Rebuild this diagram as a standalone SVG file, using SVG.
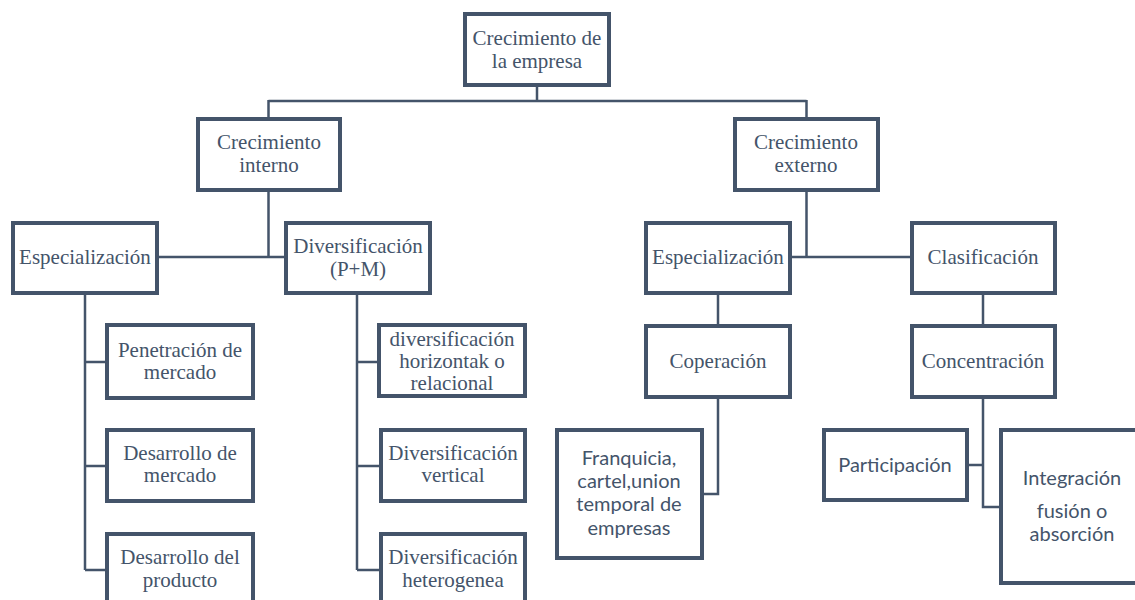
<svg xmlns="http://www.w3.org/2000/svg" width="1135" height="600" viewBox="0 0 1135 600">
<style>
.box{fill:#fff;stroke:#44546a;stroke-width:4}
.t{font-family:"Liberation Serif","Times New Roman",serif;font-size:21px;fill:#44546a;text-anchor:middle}
.s{font-family:Lato,"Liberation Sans",sans-serif;font-size:20px;fill:#44546a;text-anchor:middle}
.c{fill:none;stroke:#44546a;stroke-width:2.5}
</style>
<rect width="1135" height="600" fill="#fff"/>
<g id="connectors">
<path class="c" d="M537 85V101M268.5 101H806.5M268.5 100V119M806.5 100V119"/>
<path class="c" d="M268.5 190V257M157 257H286"/>
<path class="c" d="M806.5 190V257M790 257H912"/>
<path class="c" d="M85 293V570M85 362H108M85 466H108M85 570H108"/>
<path class="c" d="M357 293V570M357 362H379M357 466H381M357 570H381"/>
<path class="c" d="M718 293V326M983 293V326"/>
<path class="c" d="M718 397V494H702"/>
<path class="c" d="M983 397V507H1001M983 465H967"/>
</g>
<g id="n1"><rect class="box" x="465" y="14" width="144" height="71"/><text class="t" x="537" y="45">Crecimiento de</text><text class="t" x="537" y="68">la empresa</text></g>
<g id="n2"><rect class="box" x="198" y="119" width="142" height="71"/><text class="t" x="269" y="149">Crecimiento</text><text class="t" x="269" y="172">interno</text></g>
<g id="n3"><rect class="box" x="735" y="119" width="143" height="71"/><text class="t" x="806" y="149">Crecimiento</text><text class="t" x="806" y="172">externo</text></g>
<g id="n4"><rect class="box" x="13" y="223" width="144" height="70"/><text class="t" x="85" y="264">Especialización</text></g>
<g id="n5"><rect class="box" x="286" y="223" width="144" height="70"/><text class="t" x="358" y="253">Diversificación</text><text class="t" x="358" y="276">(P+M)</text></g>
<g id="n6"><rect class="box" x="107" y="325" width="146" height="73"/><text class="t" x="180" y="357">Penetración de</text><text class="t" x="180" y="379">mercado</text></g>
<g id="n7"><rect class="box" x="107" y="430" width="146" height="71"/><text class="t" x="180" y="460">Desarrollo de</text><text class="t" x="180" y="482">mercado</text></g>
<g id="n8"><rect class="box" x="107" y="534" width="146" height="71"/><text class="t" x="180" y="564">Desarrollo del</text><text class="t" x="180" y="587">producto</text></g>
<g id="n9"><rect class="box" x="379" y="325" width="146" height="71"/><text class="t" x="452" y="346">diversificación</text><text class="t" x="452" y="368">horizontak o</text><text class="t" x="452" y="390">relacional</text></g>
<g id="n10"><rect class="box" x="381" y="430" width="144" height="71"/><text class="t" x="453" y="460">Diversificación</text><text class="t" x="453" y="482">vertical</text></g>
<g id="n11"><rect class="box" x="381" y="534" width="144" height="71"/><text class="t" x="453" y="564">Diversificación</text><text class="t" x="453" y="587">heterogenea</text></g>
<g id="n12"><rect class="box" x="646" y="223" width="144" height="70"/><text class="t" x="718" y="264">Especialización</text></g>
<g id="n13"><rect class="box" x="912" y="223" width="143" height="70"/><text class="t" x="983" y="264">Clasificación</text></g>
<g id="n14"><rect class="box" x="646" y="326" width="144" height="71"/><text class="t" x="718" y="368">Coperación</text></g>
<g id="n15"><rect class="box" x="912" y="326" width="143" height="71"/><text class="t" x="983" y="368">Concentración</text></g>
<g id="n16"><rect class="box" x="557" y="430" width="145" height="128"/><text class="s" x="629" y="465">Franquicia,</text><text class="s" x="629" y="488">cartel,union</text><text class="s" x="629" y="511">temporal de</text><text class="s" x="629" y="535">empresas</text></g>
<g id="n17"><rect class="box" x="824" y="430" width="143" height="70"/><text class="s" x="895" y="472">Participación</text></g>
<g id="n18"><rect class="box" x="1001" y="430" width="144" height="153"/><text class="s" x="1072" y="485">Integración</text><text class="s" x="1072" y="518">fusión o</text><text class="s" x="1072" y="541">absorción</text></g>
</svg>
